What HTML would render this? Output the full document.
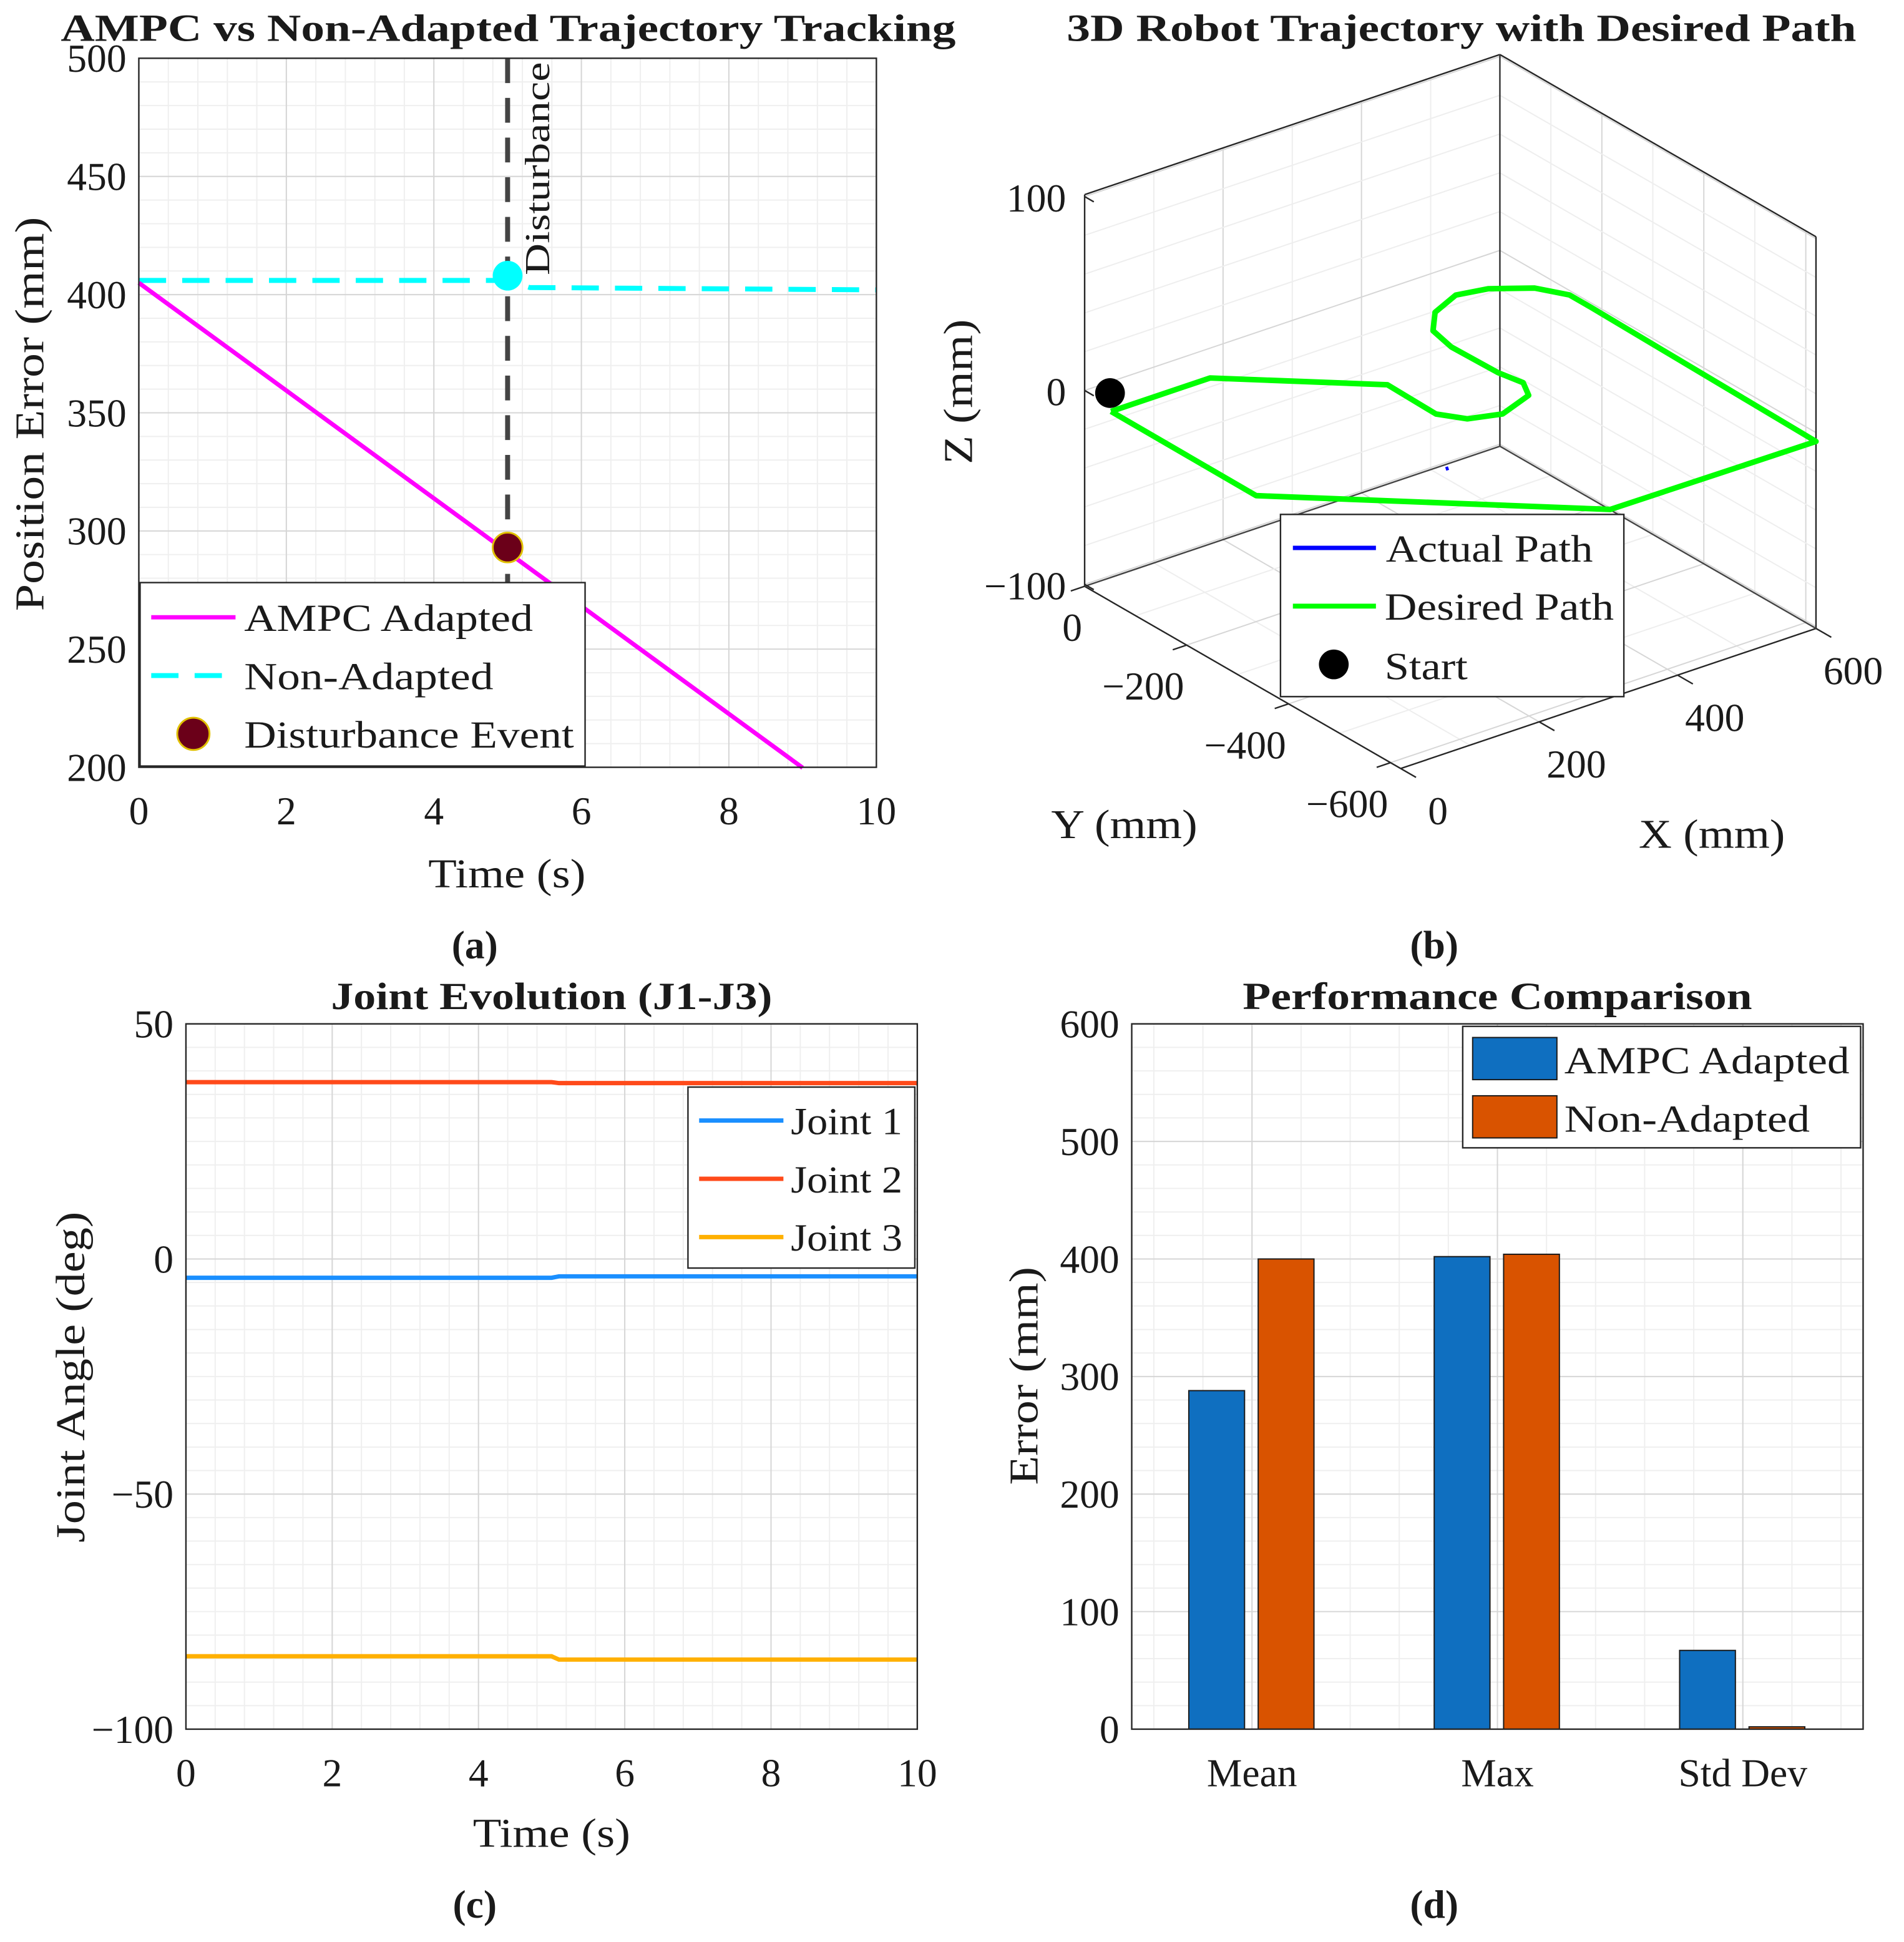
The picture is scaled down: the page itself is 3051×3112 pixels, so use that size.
<!DOCTYPE html>
<html><head><meta charset="utf-8"><style>
html,body{margin:0;padding:0;background:#fff}
svg{display:block}
text{font-family:"Liberation Serif",serif;fill:#1a1a1a}
</style></head><body>
<svg id="fig" xmlns="http://www.w3.org/2000/svg" width="3051" height="3112" viewBox="0 0 1536 1566.7">
<rect width="1536" height="1567" fill="#fff"/>
</svg>
<script>
// ---------- data ----------
const tA = [0, 5, 10];
const ampcA = [405, 291, 177];
const nonT = [0, 5, 5.3, 10];
const nonA = [406, 406, 403, 402];
const distT = 5, distAmpc = 293, distNon = 408;

const jT = [0, 5, 5.1, 10];
const joint1 = [-4, -4, -3.7, -3.7];
const joint2 = [37.6, 37.6, 37.4, 37.4];
const joint3 = [-84.5, -84.5, -85.2, -85.2];

const cats = ["Mean", "Max", "Std Dev"];
const ampcBars = [288, 402, 67];
const nonBars = [400, 404, 2];

const pathX = [-9,134,285,283,304,344,397,412,405,403,412,443,489,529,572,593,593,586,291,-10,-9];
const pathY = [-64,-64,-207,-305,-338,-353,-332,-301,-261,-172,-124,-86,-64,-74,-106,-146,-188,-639,-636,-350,-64];
const pathZ = [0,0,0,0,0,0,0,0,0,0,0,0,0,0,0,0,0,0,0,0,0];
const startPt = [19,-24,0];
const actualX = [205,209], actualY = [-430,-430], actualZ = [0,0];

// ---------- helpers ----------
const NS = "http://www.w3.org/2000/svg";
const svg = document.getElementById('fig');
function el(tag, attrs, parent, txt){
  const e = document.createElementNS(NS, tag);
  for (const k in attrs) e.setAttribute(k, attrs[k]);
  if (txt !== undefined) e.textContent = txt;
  (parent || svg).appendChild(e);
  return e;
}
function grp(name){
  const g = document.createElementNS(NS,'g');
  
  
  svg.appendChild(g);
  return g;
}
function lin(d0,d1,r0,r1){ return v => r0 + (v-d0)*(r1-r0)/(d1-d0); }
const FIT = (w)=>({textLength:w, lengthAdjust:'spacingAndGlyphs'});

function axes2d(name, L, T, R, B, xd, yd, xticks, yticks, xminor, yminor, xlabels, xminStart){
  const g = grp(name);
  const X = lin(xd[0], xd[1], L, R), Y = lin(yd[0], yd[1], B, T);
  if (xminor) for (let v = (xminStart!==undefined?xminStart:xd[0]); v <= xd[1]+1e-9; v += xminor) el('line',{x1:X(v),x2:X(v),y1:T,y2:B,stroke:'#efefef','stroke-width':1},g);
  if (yminor) for (let v = yd[0]; v <= yd[1]+1e-9; v += yminor) el('line',{x1:L,x2:R,y1:Y(v),y2:Y(v),stroke:'#efefef','stroke-width':1},g);
  xticks.forEach(v=>el('line',{x1:X(v),x2:X(v),y1:T,y2:B,stroke:'#d6d6d6','stroke-width':1},g));
  yticks.forEach(v=>el('line',{x1:L,x2:R,y1:Y(v),y2:Y(v),stroke:'#d6d6d6','stroke-width':1},g));
  const tl = grp(name+'-tick-labels');
  xticks.forEach((v,i)=>{ const t=el('text',{x:X(v),y:B+46,'font-size':32,'text-anchor':'middle'},tl,xlabels?xlabels[i]:String(v));   });
  yticks.forEach(v=>{ const t=el('text',{x:L-10,y:Y(v)+11,'font-size':32,'text-anchor':'end'},tl,String(v).replace('-','\u2212'));   });
  return {X,Y,g,L,T,R,B};
}
function frame(a){
  const f = el('rect',{x:a.L,y:a.T,width:a.R-a.L,height:a.B-a.T,fill:'none',stroke:'#262626','stroke-width':1.2});
   
}
function poly(xs, ys, X, Y, attrs, name){
  const p = el('polyline', Object.assign({points: xs.map((v,i)=>X(v)+','+Y(ys[i])).join(' '), fill:'none'}, attrs));
  
  
  return p;
}
function txt(x,y,s,size,name,extra){
  const t = el('text', Object.assign({x:x,y:y,'font-size':size,'text-anchor':'middle'}, extra||{}), svg, s);
  
  
  return t;
}

// ---------- panel a ----------
const A = axes2d('panel-a-axes',112,47,707,619,[0,10],[200,500],[0,2,4,6,8,10],[200,250,300,350,400,450,500],0.4,10);
poly(nonT, nonA, A.X, A.Y, {stroke:'#00ffff','stroke-width':4,'stroke-dasharray':'22 13'}, 'non-adapted-line');
poly([0,9], [ampcA[0], ampcA[0]+(ampcA[1]-ampcA[0])/5*9], A.X, A.Y, {stroke:'#ff00ff','stroke-width':3.5}, 'ampc-adapted-line');
const vl = el('line',{x1:A.X(distT),x2:A.X(distT),y1:A.T,y2:A.B,stroke:'#444','stroke-width':4,'stroke-dasharray':'20 12'});
 
const c1 = el('circle',{cx:A.X(distT),cy:A.Y(distNon),r:12,fill:'#00ffff'});
 
const c2 = el('circle',{cx:A.X(distT),cy:A.Y(distAmpc),r:12,fill:'#6b0019',stroke:'#e0c000','stroke-width':1.5});
 
txt(0,0,'Disturbance',28,'disturbance-annotation',Object.assign({transform:'translate(443,136) rotate(-90)'},FIT(172)));
frame(A);
txt(410,33,'AMPC vs Non-Adapted Trajectory Tracking',31,'panel-a-title',Object.assign({'font-weight':'bold'},FIT(722)));
txt(409,716,'Time (s)',33,'panel-a-x-axis-title',FIT(127));
txt(0,0,'Position Error (mm)',33,'panel-a-y-axis-title',Object.assign({transform:'translate(35,334) rotate(-90)'},FIT(318)));
txt(383,773,'(a)',32,'panel-a-caption',{'font-weight':'bold'});
(function(){
  const g = grp('panel-a-legend');
  el('rect',{x:113,y:470,width:359,height:148,fill:'#fff',stroke:'#262626','stroke-width':1.2},g);
  el('line',{x1:122,x2:190,y1:498,y2:498,stroke:'#ff00ff','stroke-width':3.5},g);
  el('line',{x1:122,x2:190,y1:545,y2:545,stroke:'#00ffff','stroke-width':4,'stroke-dasharray':'22 13'},g);
  el('circle',{cx:156,cy:592,r:13,fill:'#6b0019',stroke:'#e0c000','stroke-width':1.5},g);
  el('text',Object.assign({x:197,y:509,'font-size':31},FIT(233)),g,'AMPC Adapted');
  el('text',Object.assign({x:197,y:556,'font-size':31},FIT(201)),g,'Non-Adapted');
  el('text',Object.assign({x:197,y:603,'font-size':31},FIT(266)),g,'Disturbance Event');
})();

// ---------- panel b (3D) ----------
const P0x = 1130, P0y = 620;
function px(x,y,z){ return P0x + x*335/600 + (y+620)*(-255/620); }
function py(x,y,z){ return P0y + x*(-113/600) + (y+620)*(-147/620) - (z+101)*316/202; }
(function(){
  const g = grp('panel-b-grid');
  const L=(a,b,c,d,e,f,col)=>el('line',{x1:px(a,b,c),y1:py(a,b,c),x2:px(d,e,f),y2:py(d,e,f),stroke:col,'stroke-width':1},g);
  for (let x=0;x<=600;x+=100){ const c = x%200===0?'#d6d6d6':'#eeeeee';
    L(x,-620,-101,x,0,-101,c); L(x,0,-101,x,0,101,c); }
  for (let y=-600;y<=0;y+=100){ const c = y%200===0?'#d6d6d6':'#eeeeee';
    L(0,y,-101,600,y,-101,c); L(600,y,-101,600,y,101,c); }
  for (let z=-100;z<=100;z+=20){ const c = z%100===0?'#d6d6d6':'#eeeeee';
    L(0,0,z,600,0,z,c); L(600,0,z,600,-620,z,c); }
  const E=(a,b,c,d,e,f,col)=>el('line',{x1:px(a,b,c),y1:py(a,b,c),x2:px(d,e,f),y2:py(d,e,f),stroke:col,'stroke-width':1.2},g);
  E(0,0,-101,0,0,101,'#262626'); E(0,0,101,600,0,101,'#262626'); E(600,0,101,600,-620,101,'#262626');
  E(600,-620,101,600,-620,-101,'#262626'); E(600,0,-101,600,0,101,'#333');
  E(0,0,-101,0,-620,-101,'#262626'); E(0,-620,-101,600,-620,-101,'#262626');
  E(0,0,-101,600,0,-101,'#444'); E(600,0,-101,600,-620,-101,'#444');
  [-100,0,100].forEach(z=>{ E(0,0,z,0,-18,z,'#262626');
    const t=el('text',{x:px(0,0,z)-15,y:py(0,0,z)+12,'font-size':32,'text-anchor':'end'},g,String(z).replace('-','\u2212'));
      });
  [0,-200,-400,-600].forEach(y=>{ E(0,y,-101,-20,y,-101,'#262626');
    const t=el('text',{x:px(0,y,-101)-2,y:py(0,y,-101)+44,'font-size':32,'text-anchor':'end'},g,String(y).replace('-','\u2212'));
      });
  [0,200,400,600].forEach(x=>{ E(x,-620,-101,x,-650,-101,'#262626');
    const t=el('text',{x:px(x,-620,-101)+30,y:py(x,-620,-101)+45,'font-size':32,'text-anchor':'middle'},g,String(x));
      });
})();
(function(){
  const pts = pathX.map((x,i)=>px(x,pathY[i],pathZ[i])+','+py(x,pathY[i],pathZ[i])).join(' ');
  const p = el('polyline',{points:pts,fill:'none',stroke:'#00ff00','stroke-width':4.5,'stroke-linejoin':'round'});
   
  const ap = el('polyline',{points:actualX.map((x,i)=>px(x,actualY[i],actualZ[i])+','+py(x,actualY[i],actualZ[i])).join(' '),fill:'none',stroke:'#0000ff','stroke-width':3});
   
  const s = el('circle',{cx:px(...startPt),cy:py(...startPt),r:12,fill:'#000'});
   
})();
txt(1179,33,'3D Robot Trajectory with Desired Path',31,'panel-b-title',Object.assign({'font-weight':'bold'},FIT(637)));
txt(0,0,'Z (mm)',33,'panel-b-z-axis-title',Object.assign({transform:'translate(784,316) rotate(-90)'},FIT(117)));
txt(907,676,'Y (mm)',33,'panel-b-y-axis-title',FIT(118));
txt(1381,684,'X (mm)',33,'panel-b-x-axis-title',FIT(118));
txt(1157,773,'(b)',32,'panel-b-caption',{'font-weight':'bold'});
(function(){
  const g = grp('panel-b-legend');
  el('rect',{x:1033,y:415,width:277,height:147,fill:'#fff',stroke:'#262626','stroke-width':1.2},g);
  el('line',{x1:1043,x2:1110,y1:442,y2:442,stroke:'#0000ff','stroke-width':3.5},g);
  el('line',{x1:1043,x2:1110,y1:489,y2:489,stroke:'#00ff00','stroke-width':4},g);
  el('circle',{cx:1076,cy:536,r:12,fill:'#000'},g);
  el('text',Object.assign({x:1118,y:453,'font-size':31},FIT(167)),g,'Actual Path');
  el('text',Object.assign({x:1117,y:500,'font-size':31},FIT(185)),g,'Desired Path');
  el('text',Object.assign({x:1117,y:548,'font-size':31},FIT(67)),g,'Start');
})();

// ---------- panel c ----------
const C = axes2d('panel-c-axes',150,826,740,1395,[0,10],[-100,50],[0,2,4,6,8,10],[-100,-50,0,50],0.4,5);
poly(jT, joint2, C.X, C.Y, {stroke:'#ff4a1a','stroke-width':3.5}, 'joint-2-line');
poly(jT, joint1, C.X, C.Y, {stroke:'#1a8fff','stroke-width':3.5}, 'joint-1-line');
poly(jT, joint3, C.X, C.Y, {stroke:'#ffb000','stroke-width':3.5}, 'joint-3-line');
frame(C);
txt(445,814,'Joint Evolution (J1-J3)',31,'panel-c-title',Object.assign({'font-weight':'bold'},FIT(356)));
txt(445,1490,'Time (s)',33,'panel-c-x-axis-title',FIT(127));
txt(0,0,'Joint Angle (deg)',33,'panel-c-y-axis-title',Object.assign({transform:'translate(68,1111) rotate(-90)'},FIT(267)));
txt(383,1547,'(c)',32,'panel-c-caption',{'font-weight':'bold'});
(function(){
  const g = grp('panel-c-legend');
  el('rect',{x:555,y:877,width:183,height:146,fill:'#fff',stroke:'#262626','stroke-width':1.2},g);
  [['#1a8fff','Joint 1'],['#ff4a1a','Joint 2'],['#ffb000','Joint 3']].forEach((d,i)=>{
    el('line',{x1:564,x2:632,y1:904+i*47,y2:904+i*47,stroke:d[0],'stroke-width':3.5},g);
    el('text',Object.assign({x:638,y:915+i*47,'font-size':31},FIT(90)),g,d[1]);
  });
})();

// ---------- panel d ----------
const D = axes2d('panel-d-axes',913,826,1503,1395,[0.51,3.49],[0,600],[1,2,3],[0,100,200,300,400,500,600],0.2,20,cats,0.6);
cats.forEach((c,i)=>{
  const xc = D.X(i+1);
  const b1 = el('rect',{x:xc-51,y:D.Y(ampcBars[i]),width:45,height:D.Y(0)-D.Y(ampcBars[i]),fill:'#0f6fc0',stroke:'#1a1a1a','stroke-width':1});
   
  const b2 = el('rect',{x:xc+5,y:D.Y(nonBars[i]),width:45,height:D.Y(0)-D.Y(nonBars[i]),fill:'#d95300',stroke:'#1a1a1a','stroke-width':1});
   
});
frame(D);
txt(1208,814,'Performance Comparison',31,'panel-d-title',Object.assign({'font-weight':'bold'},FIT(411)));
txt(0,0,'Error (mm)',33,'panel-d-y-axis-title',Object.assign({transform:'translate(837,1110) rotate(-90)'},FIT(176)));
txt(1157,1547,'(d)',32,'panel-d-caption',{'font-weight':'bold'});
(function(){
  const g = grp('panel-d-legend');
  el('rect',{x:1180,y:828,width:321,height:98,fill:'#fff',stroke:'#262626','stroke-width':1.2},g);
  el('rect',{x:1188,y:837,width:68,height:34,fill:'#0f6fc0',stroke:'#1a1a1a','stroke-width':1},g);
  el('rect',{x:1188,y:884,width:68,height:34,fill:'#d95300',stroke:'#1a1a1a','stroke-width':1},g);
  el('text',Object.assign({x:1262,y:866,'font-size':31},FIT(230)),g,'AMPC Adapted');
  el('text',Object.assign({x:1262,y:913,'font-size':31},FIT(198)),g,'Non-Adapted');
})();
</script>
</body></html>
